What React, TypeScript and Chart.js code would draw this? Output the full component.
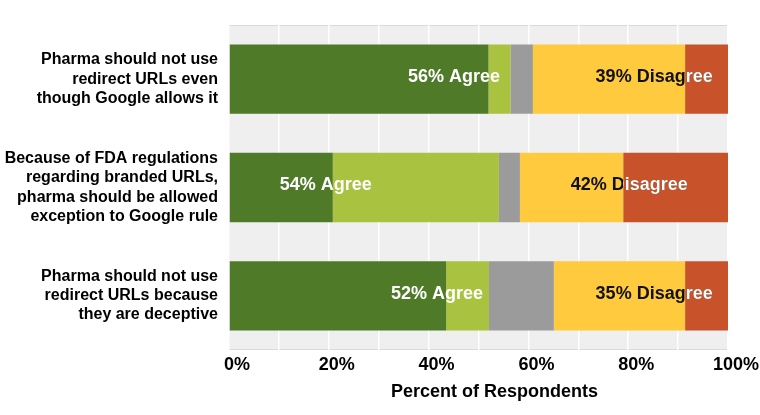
import React, { useEffect, useRef } from "react";
import { Chart, registerables } from "chart.js";

Chart.register(...registerables);

const FONT = "'Liberation Sans', Arial, Helvetica, sans-serif";

const categories: string[][] = [
  ["Pharma should not use", "redirect URLs even", "though Google allows it"],
  ["Because of FDA regulations", "regarding branded URLs,", "pharma should be allowed", "exception to Google rule"],
  ["Pharma should not use", "redirect URLs because", "they are deceptive"],
];

const seriesNames = ["Strongly agree", "Agree", "Neutral", "Disagree", "Strongly disagree"];
const seriesColors = ["#4F7A28", "#A9C23F", "#9B9B9B", "#FFCA3E", "#C8532A"];

const stronglyAgree = [52.0, 20.8, 43.5];
const agree = [4.4, 33.3, 8.6];
const neutral = [4.5, 4.2, 13.0];
const disagree = [30.5, 20.7, 26.3];
const stronglyDisagree = [8.6, 21.0, 8.6];

const agreeLabels = ["56% Agree", "54% Agree", "52% Agree"];
const disagreeLabels = ["39% Disagree", "42% Disagree", "35% Disagree"];
// label centres, in percent along the x axis
const agreeLabelPos = [45.1, 19.4, 41.7];
const disagreeLabelPos = [85.2, 80.2, 85.2];

const xAxisTitle = "Percent of Respondents";

const bgPlugin = {
  id: "plotBg",
  beforeDraw(chart: any) {
    const { ctx, chartArea: a } = chart;
    ctx.save();
    ctx.fillStyle = "#EFEFEF";
    ctx.fillRect(a.left, a.top, a.right - a.left, a.bottom - a.top);
    ctx.fillStyle = "#DADADA";
    ctx.fillRect(a.left, a.top, a.right - a.left, 1);
    ctx.fillRect(a.left, a.bottom - 1, a.right - a.left, 1);
    ctx.restore();
  },
};

const labelPlugin = {
  id: "segLabels",
  afterDatasetsDraw(chart: any) {
    const { ctx } = chart;
    const xs = chart.scales.x;
    const redMeta = chart.getDatasetMeta(4);
    const firstMeta = chart.getDatasetMeta(0);
    ctx.save();
    ctx.font = `bold 18px ${FONT}`;
    ctx.textAlign = "center";
    ctx.textBaseline = "middle";
    for (let i = 0; i < categories.length; i++) {
      const y = firstMeta.data[i].y - 2;
      ctx.fillStyle = "#FFFFFF";
      ctx.fillText(agreeLabels[i], xs.getPixelForValue(agreeLabelPos[i]), y);
      const dx = xs.getPixelForValue(disagreeLabelPos[i]);
      ctx.fillStyle = "#111111";
      ctx.fillText(disagreeLabels[i], dx, y);
      const el = redMeta.data[i];
      const left = Math.min(el.base, el.x);
      const w = Math.abs(el.x - el.base);
      ctx.save();
      ctx.beginPath();
      ctx.rect(left, el.y - el.height / 2, w, el.height);
      ctx.clip();
      ctx.fillStyle = "#FFFFFF";
      ctx.fillText(disagreeLabels[i], dx, y);
      ctx.restore();
    }
    ctx.restore();
  },
  afterDraw(chart: any) {
    const { ctx, chartArea: a } = chart;
    ctx.save();
    ctx.font = `bold 18px ${FONT}`;
    ctx.textAlign = "center";
    ctx.textBaseline = "middle";
    ctx.fillStyle = "#000000";
    ctx.fillText(xAxisTitle, (a.left + a.right) / 2 + 16, 392);
    ctx.restore();
  },
};

export default function App() {
  const ref = useRef<HTMLCanvasElement | null>(null);

  useEffect(() => {
    document.body.style.margin = "0";
    if (!ref.current) return;
    const values = [stronglyAgree, agree, neutral, disagree, stronglyDisagree];
    const chart = new Chart(ref.current, {
      type: "bar",
      data: {
        labels: categories,
        datasets: values.map((d, k) => ({
          label: seriesNames[k],
          data: d,
          backgroundColor: seriesColors[k],
          borderWidth: 0,
          barPercentage: 0.64,
          categoryPercentage: 1,
        })),
      },
      options: {
        indexAxis: "y",
        responsive: false,
        animation: false,
        layout: { padding: { top: 25, right: 32, left: 0, bottom: 0 } },
        plugins: {
          legend: { display: false },
          tooltip: { enabled: false },
          title: { display: false },
        },
        scales: {
          x: {
            stacked: true,
            min: 0,
            max: 100,
            position: "bottom",
            ticks: {
              stepSize: 10,
              autoSkip: false,
              maxRotation: 0,
              padding: 4,
              labelOffset: 8,
              color: "#000000",
              font: { family: FONT, size: 18, weight: "bold" },
              callback: (v: any) => (Number(v) % 20 === 0 ? `${v}%` : ""),
            },
            grid: { color: "#FFFFFF", lineWidth: 1.5, drawTicks: false },
            border: { display: false },
            afterFit: (s: any) => {
              s.height = 65;
              s.paddingLeft = 0;
              s.paddingRight = 0;
            },
          },
          y: {
            stacked: true,
            grid: { display: false, drawTicks: false },
            border: { display: false },
            ticks: {
              padding: 11,
              color: "#000000",
              font: { family: FONT, size: 16, weight: "bold", lineHeight: 1.2 },
            },
            afterFit: (s: any) => {
              s.width = 229;
              s.paddingTop = 0;
              s.paddingBottom = 0;
            },
          },
        },
      } as any,
      plugins: [bgPlugin, labelPlugin],
    });
    return () => chart.destroy();
  }, []);

  return (
    <div style={{ position: "fixed", left: 0, top: 0, width: 760, height: 415 }}>
      <canvas ref={ref} width={760} height={415} />
    </div>
  );
}
